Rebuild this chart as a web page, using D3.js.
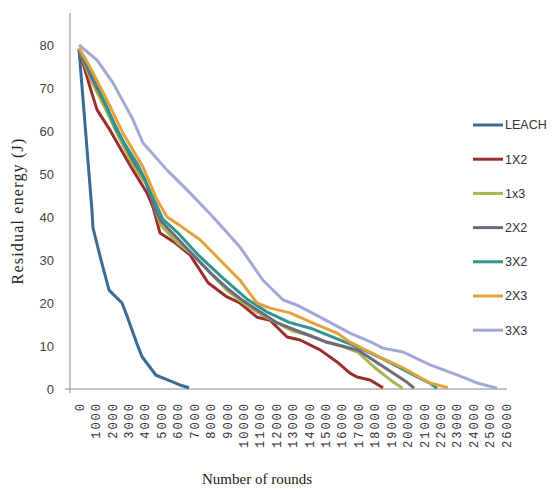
<!DOCTYPE html>
<html>
<head>
<meta charset="utf-8">
<script src="https://cdn.jsdelivr.net/npm/d3@7"></script>
<style>
  body { margin: 0; background: #fff; }
  svg { display: block; }
</style>
</head>
<body>
<div id="chart"></div>
<script>
// rounds / residual energy (J) for each scheme
const leachRounds = [0, 790, 850, 1340, 1830, 2620, 2920, 3530, 3840, 4690, 5480, 6100, 6700];
const leachEnergy = [79, 41.5, 37.5, 30, 23, 20, 17, 10.5, 7.5, 3.2, 2, 1, 0.3];

const r1x2 = [0, 670, 1100, 1890, 2680, 3290, 4140, 4510, 4930, 5850, 6760, 7860, 9010, 9800, 10840, 11630, 12670, 13460, 14680, 15710, 16500, 16930, 17720, 18510];
const e1x2 = [79, 70.2, 64.9, 60.2, 54.9, 50.9, 45.6, 42.3, 36.3, 34, 31.2, 24.7, 21.4, 20, 16.7, 16, 12.1, 11.4, 9.1, 6.3, 3.7, 2.8, 2.1, 0.3];

const r1x3 = [0, 700, 1500, 2500, 3300, 4200, 4700, 5000, 6000, 7000, 8000, 9000, 10000, 11000, 12000, 13000, 14000, 15000, 16000, 17000, 18000, 19000, 19700];
const e1x3 = [79, 72, 66, 58, 52, 47, 41, 38, 34, 31, 27, 23, 20, 17.5, 15.5, 13.5, 12.5, 11, 10, 8.5, 5, 2, 0.2];

const r2x2 = [0, 700, 1500, 2500, 3300, 4000, 4600, 5000, 6000, 7000, 8000, 9000, 10000, 11000, 12000, 13000, 14000, 15000, 16000, 17000, 18000, 19000, 20000, 20400];
const e2x2 = [79, 73, 67, 59, 53, 49, 42, 39, 35, 31, 27, 23.5, 20.5, 18, 15.5, 14, 12.5, 11, 10, 9, 6.5, 4, 1.5, 0.2];

const r3x2 = [0, 1000, 2300, 3600, 4450, 5100, 6100, 7300, 8700, 10200, 11400, 12800, 14200, 15500, 17100, 18500, 19500, 20500, 21300, 21800];
const e3x2 = [79, 72, 60, 52, 45, 39.5, 36, 31, 26, 21, 18, 15.5, 14, 12, 9.5, 7, 5, 3, 1.5, 0.2];

const r2x3 = [0, 670, 1700, 2680, 3900, 4750, 5360, 6150, 7370, 8590, 9800, 10840, 11630, 12850, 14250, 15710, 16500, 18330, 19730, 21380, 22470];
const e2x3 = [79.3, 74.9, 67.2, 59.5, 51.6, 44, 40, 38, 34.7, 30, 25.3, 20, 18.8, 17.7, 15.3, 13, 10.9, 7.4, 4.9, 1.4, 0.3];

const r3x3 = [0, 1100, 2070, 3290, 3900, 5360, 6580, 8160, 9800, 11200, 12430, 13280, 14680, 16500, 17900, 18500, 19730, 21380, 23020, 24240, 25460];
const e3x3 = [80, 76.5, 71.2, 62.6, 57.2, 50.9, 46.3, 40, 33, 25.3, 20.7, 19.5, 16.7, 13, 10.7, 9.5, 8.6, 5.6, 3.3, 1.4, 0.2];

const seriesNames = ["LEACH", "1X2", "1x3", "2X2", "3X2", "2X3", "3X3"];
const seriesColors = ["#386b96", "#9b2d2f", "#a9b54a", "#6c6a80", "#31958f", "#e2a33c", "#a4a6d3"];
const seriesRounds = [leachRounds, r1x2, r1x3, r2x2, r3x2, r2x3, r3x3];
const seriesEnergy = [leachEnergy, e1x2, e1x3, e2x2, e3x2, e2x3, e3x3];

const xTicks = d3.range(0, 26001, 1000);
const yTicks = [0, 10, 20, 30, 40, 50, 60, 70, 80];

const width = 552, height = 494;

const svg = d3.select("#chart").append("svg")
    .attr("width", width)
    .attr("height", height);

const x = d3.scaleLinear().domain([0, 26000]).range([79, 506]);
const y = d3.scaleLinear().domain([0, 80]).range([389, 45]);

// axes lines
svg.append("line")
    .attr("x1", 70).attr("x2", 70)
    .attr("y1", 13).attr("y2", 393)
    .attr("stroke", "#8a8a8a").attr("stroke-width", 1);
svg.append("line")
    .attr("x1", 65).attr("x2", 507)
    .attr("y1", 389).attr("y2", 389)
    .attr("stroke", "#8a8a8a").attr("stroke-width", 1);

// y tick labels
const yAxis = svg.append("g")
    .attr("transform", "translate(70,0)")
    .call(d3.axisLeft(y).tickValues(yTicks).tickSize(0).tickPadding(16));
yAxis.select(".domain").remove();
yAxis.selectAll("text")
    .attr("font-family", "Liberation Sans, Arial, sans-serif")
    .attr("font-size", 13)
    .attr("fill", "#444");

// x tick labels, rotated
const xAxis = svg.append("g")
    .attr("transform", "translate(0,389)")
    .call(d3.axisBottom(x).tickValues(xTicks).tickSize(0).tickFormat(d3.format("d")));
xAxis.select(".domain").remove();
xAxis.selectAll("text")
    .attr("font-family", "Liberation Mono, Courier New, monospace")
    .attr("font-size", 12)
    .attr("letter-spacing", 2)
    .attr("fill", "#333")
    .attr("text-anchor", "end")
    .attr("transform", "rotate(-90)")
    .attr("x", -13)
    .attr("y", 0)
    .attr("dy", "0.35em");

// lines
const line = d3.line()
    .x(d => x(d[0]))
    .y(d => y(d[1]));

seriesNames.forEach((name, i) => {
    const pts = seriesRounds[i].map((r, j) => [r, seriesEnergy[i][j]]);
    svg.append("path")
        .datum(pts)
        .attr("fill", "none")
        .attr("stroke", seriesColors[i])
        .attr("stroke-width", 3)
        .attr("stroke-linejoin", "round")
        .attr("d", line);
});

// legend
const legend = svg.append("g");
seriesNames.forEach((name, i) => {
    const ly = 125 + i * 34.2;
    legend.append("line")
        .attr("x1", 473).attr("x2", 503)
        .attr("y1", ly).attr("y2", ly)
        .attr("stroke", seriesColors[i])
        .attr("stroke-width", 3);
    legend.append("text")
        .attr("x", 505).attr("y", ly)
        .attr("dy", "0.35em")
        .attr("font-family", "Liberation Sans, Arial, sans-serif")
        .attr("font-size", 12.5)
        .attr("fill", "#333")
        .text(name);
});

// axis titles
svg.append("text")
    .attr("transform", "translate(23,211) rotate(-90)")
    .attr("text-anchor", "middle")
    .attr("font-family", "Liberation Serif, Times New Roman, serif")
    .attr("font-size", 16)
    .attr("letter-spacing", 1.2)
    .attr("fill", "#222")
    .text("Residual energy (J)");

svg.append("text")
    .attr("x", 257).attr("y", 484)
    .attr("text-anchor", "middle")
    .attr("font-family", "Liberation Serif, Times New Roman, serif")
    .attr("font-size", 15)
    .attr("fill", "#222")
    .text("Number of rounds");
</script>
</body>
</html>
